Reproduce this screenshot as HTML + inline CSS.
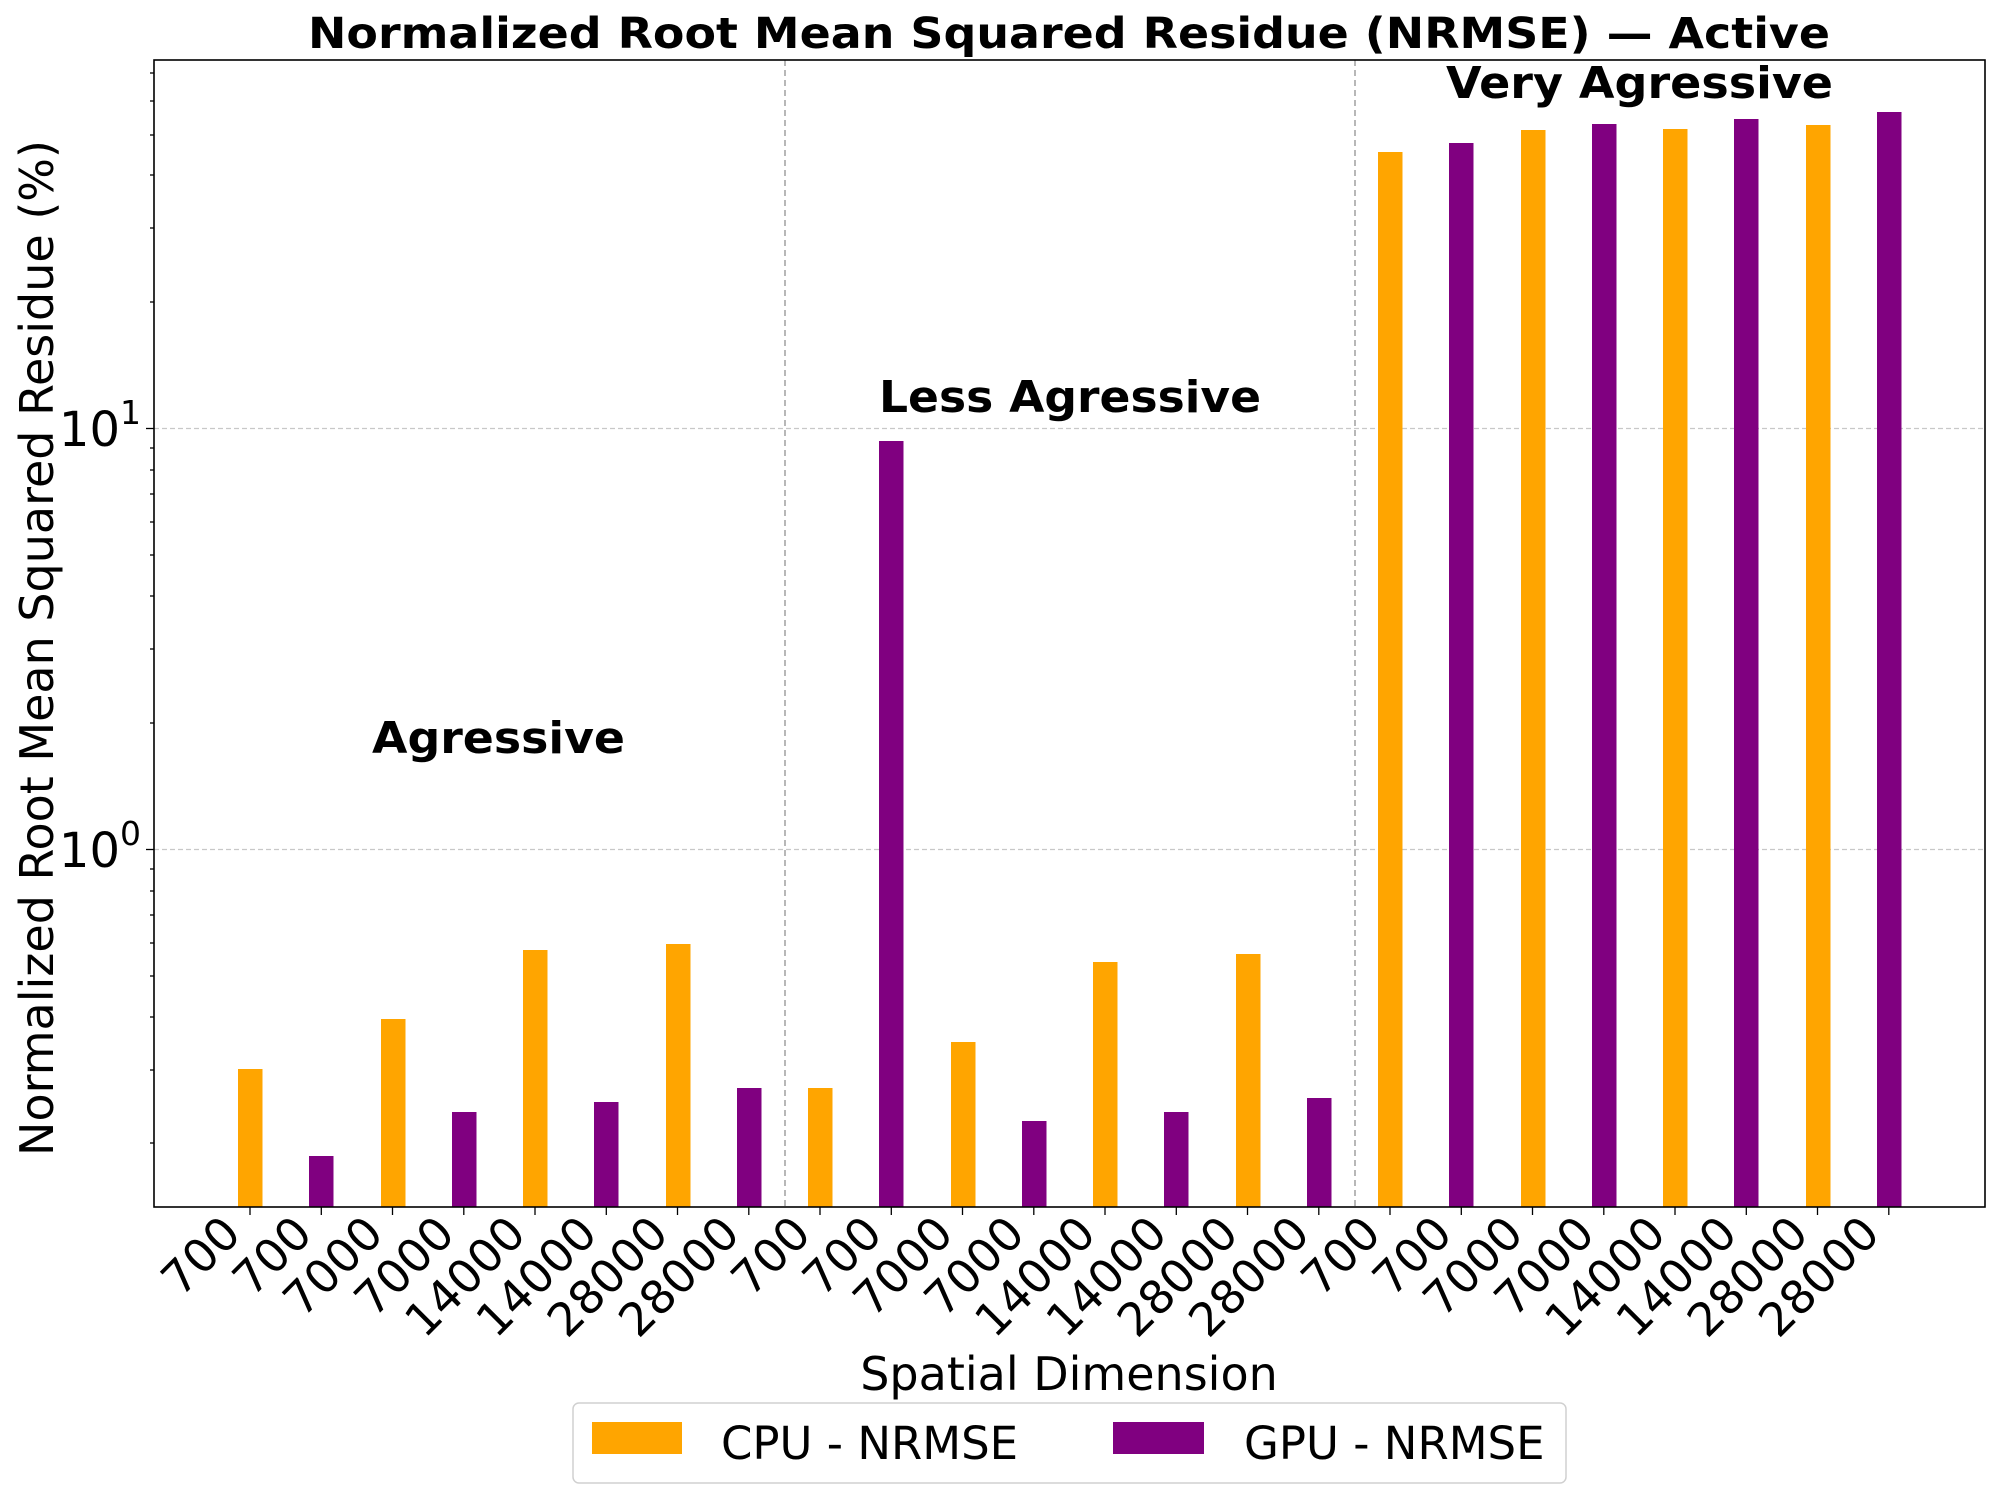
<!DOCTYPE html>
<html><head><meta charset="utf-8"><style>
html,body{margin:0;padding:0;background:#fff;}
svg{display:block;font-family:"DejaVu Sans","Liberation Sans",sans-serif;}
</style></head><body>
<svg width="2000" height="1500" viewBox="0 0 2000 1500" xmlns="http://www.w3.org/2000/svg">
<rect width="2000" height="1500" fill="#fff"/>
<text x="1069" y="48" font-size="43" font-weight="bold" text-anchor="middle" textLength="1522" lengthAdjust="spacingAndGlyphs">Normalized Root Mean Squared Residue (NRMSE) — Active</text>
<g stroke="#c8c8c8" stroke-width="1.2" stroke-dasharray="5,3">
<line x1="154" y1="428.5" x2="1985" y2="428.5"/>
<line x1="154" y1="849.5" x2="1985" y2="849.5"/>
</g>
<g stroke="#999" stroke-width="1.4" stroke-dasharray="6,4">
<line x1="785" y1="60" x2="785" y2="1207"/>
<line x1="1355" y1="60" x2="1355" y2="1207"/>
</g>
<g>
<rect x="238" y="1069" width="24.5" height="138" fill="#FFA500"/>
<rect x="309" y="1156" width="24.5" height="51" fill="#800080"/>
<rect x="381" y="1019" width="24.5" height="188" fill="#FFA500"/>
<rect x="452" y="1112" width="24.5" height="95" fill="#800080"/>
<rect x="523" y="950" width="24.5" height="257" fill="#FFA500"/>
<rect x="594" y="1102" width="24.5" height="105" fill="#800080"/>
<rect x="666" y="944" width="24.5" height="263" fill="#FFA500"/>
<rect x="737" y="1088" width="24.5" height="119" fill="#800080"/>
<rect x="808" y="1088" width="24.5" height="119" fill="#FFA500"/>
<rect x="879" y="441" width="24.5" height="766" fill="#800080"/>
<rect x="951" y="1042" width="24.5" height="165" fill="#FFA500"/>
<rect x="1022" y="1121" width="24.5" height="86" fill="#800080"/>
<rect x="1093" y="962" width="24.5" height="245" fill="#FFA500"/>
<rect x="1164" y="1112" width="24.5" height="95" fill="#800080"/>
<rect x="1236" y="954" width="24.5" height="253" fill="#FFA500"/>
<rect x="1307" y="1098" width="24.5" height="109" fill="#800080"/>
<rect x="1378" y="152" width="24.5" height="1055" fill="#FFA500"/>
<rect x="1449" y="143" width="24.5" height="1064" fill="#800080"/>
<rect x="1521" y="130" width="24.5" height="1077" fill="#FFA500"/>
<rect x="1592" y="124" width="24.5" height="1083" fill="#800080"/>
<rect x="1663" y="129" width="24.5" height="1078" fill="#FFA500"/>
<rect x="1734" y="119" width="24.5" height="1088" fill="#800080"/>
<rect x="1806" y="125" width="24.5" height="1082" fill="#FFA500"/>
<rect x="1877" y="112" width="24.5" height="1095" fill="#800080"/>
</g>
<rect x="154" y="60" width="1831" height="1147" fill="none" stroke="#000" stroke-width="1.6"/>
<g stroke="#000" stroke-width="1.3">
<line x1="146" y1="428.5" x2="154" y2="428.5"/>
<line x1="146" y1="849.5" x2="154" y2="849.5"/>
<line x1="150" y1="1143" x2="154" y2="1143"/>
<line x1="150" y1="1070" x2="154" y2="1070"/>
<line x1="150" y1="1017" x2="154" y2="1017"/>
<line x1="150" y1="976" x2="154" y2="976"/>
<line x1="150" y1="943" x2="154" y2="943"/>
<line x1="150" y1="915" x2="154" y2="915"/>
<line x1="150" y1="891" x2="154" y2="891"/>
<line x1="150" y1="869" x2="154" y2="869"/>
<line x1="150" y1="723" x2="154" y2="723"/>
<line x1="150" y1="649" x2="154" y2="649"/>
<line x1="150" y1="596" x2="154" y2="596"/>
<line x1="150" y1="555" x2="154" y2="555"/>
<line x1="150" y1="522" x2="154" y2="522"/>
<line x1="150" y1="494" x2="154" y2="494"/>
<line x1="150" y1="470" x2="154" y2="470"/>
<line x1="150" y1="448" x2="154" y2="448"/>
<line x1="150" y1="302" x2="154" y2="302"/>
<line x1="150" y1="228" x2="154" y2="228"/>
<line x1="150" y1="175" x2="154" y2="175"/>
<line x1="150" y1="135" x2="154" y2="135"/>
<line x1="150" y1="101" x2="154" y2="101"/>
<line x1="150" y1="73" x2="154" y2="73"/>
</g>
<text x="141" y="446" font-size="48" text-anchor="end">10<tspan font-size="33" dy="-22">1</tspan></text>
<text x="141" y="867" font-size="48" text-anchor="end">10<tspan font-size="33" dy="-22">0</tspan></text>
<text transform="translate(53,648) rotate(-90)" font-size="46" text-anchor="middle">Normalized Root Mean Squared Residue (%)</text>
<g stroke="#000" stroke-width="1.3">
<line x1="250" y1="1207" x2="250" y2="1215"/><line x1="321.3" y1="1207" x2="321.3" y2="1215"/><line x1="392.5" y1="1207" x2="392.5" y2="1215"/><line x1="463.8" y1="1207" x2="463.8" y2="1215"/><line x1="535" y1="1207" x2="535" y2="1215"/><line x1="606.3" y1="1207" x2="606.3" y2="1215"/><line x1="677.5" y1="1207" x2="677.5" y2="1215"/><line x1="748.8" y1="1207" x2="748.8" y2="1215"/><line x1="820" y1="1207" x2="820" y2="1215"/><line x1="891.3" y1="1207" x2="891.3" y2="1215"/><line x1="962.5" y1="1207" x2="962.5" y2="1215"/><line x1="1033.8" y1="1207" x2="1033.8" y2="1215"/><line x1="1105" y1="1207" x2="1105" y2="1215"/><line x1="1176.3" y1="1207" x2="1176.3" y2="1215"/><line x1="1247.5" y1="1207" x2="1247.5" y2="1215"/><line x1="1318.8" y1="1207" x2="1318.8" y2="1215"/><line x1="1390" y1="1207" x2="1390" y2="1215"/><line x1="1461.3" y1="1207" x2="1461.3" y2="1215"/><line x1="1532.5" y1="1207" x2="1532.5" y2="1215"/><line x1="1603.8" y1="1207" x2="1603.8" y2="1215"/><line x1="1675" y1="1207" x2="1675" y2="1215"/><line x1="1746.3" y1="1207" x2="1746.3" y2="1215"/><line x1="1817.5" y1="1207" x2="1817.5" y2="1215"/><line x1="1888.8" y1="1207" x2="1888.8" y2="1215"/>
</g>
<g font-size="46" text-anchor="end">
<text transform="translate(243,1236) rotate(-45)">700</text>
<text transform="translate(314.3,1236) rotate(-45)">700</text>
<text transform="translate(385.5,1236) rotate(-45)">7000</text>
<text transform="translate(456.8,1236) rotate(-45)">7000</text>
<text transform="translate(528,1236) rotate(-45)">14000</text>
<text transform="translate(599.3,1236) rotate(-45)">14000</text>
<text transform="translate(670.5,1236) rotate(-45)">28000</text>
<text transform="translate(741.8,1236) rotate(-45)">28000</text>
<text transform="translate(813,1236) rotate(-45)">700</text>
<text transform="translate(884.3,1236) rotate(-45)">700</text>
<text transform="translate(955.5,1236) rotate(-45)">7000</text>
<text transform="translate(1026.8,1236) rotate(-45)">7000</text>
<text transform="translate(1098,1236) rotate(-45)">14000</text>
<text transform="translate(1169.3,1236) rotate(-45)">14000</text>
<text transform="translate(1240.5,1236) rotate(-45)">28000</text>
<text transform="translate(1311.8,1236) rotate(-45)">28000</text>
<text transform="translate(1383,1236) rotate(-45)">700</text>
<text transform="translate(1454.3,1236) rotate(-45)">700</text>
<text transform="translate(1525.5,1236) rotate(-45)">7000</text>
<text transform="translate(1596.8,1236) rotate(-45)">7000</text>
<text transform="translate(1668,1236) rotate(-45)">14000</text>
<text transform="translate(1739.3,1236) rotate(-45)">14000</text>
<text transform="translate(1810.5,1236) rotate(-45)">28000</text>
<text transform="translate(1881.8,1236) rotate(-45)">28000</text>
</g>
<text x="1069" y="1390" font-size="46" text-anchor="middle">Spatial Dimension</text>
<g font-size="44" font-weight="bold">
<text x="372" y="753" textLength="253" lengthAdjust="spacingAndGlyphs">Agressive</text>
<text x="879" y="412" textLength="382" lengthAdjust="spacingAndGlyphs">Less Agressive</text>
<text x="1446" y="98" textLength="387" lengthAdjust="spacingAndGlyphs">Very Agressive</text>
</g>
<rect x="573" y="1403" width="993" height="80" rx="6" fill="#fff" stroke="#d0d0d0" stroke-width="1.5"/>
<rect x="592" y="1422" width="90" height="32" fill="#FFA500"/>
<text x="721" y="1459" font-size="45">CPU - NRMSE</text>
<rect x="1113" y="1422" width="91" height="32" fill="#800080"/>
<text x="1244" y="1459" font-size="45">GPU - NRMSE</text>
</svg>
</body></html>
